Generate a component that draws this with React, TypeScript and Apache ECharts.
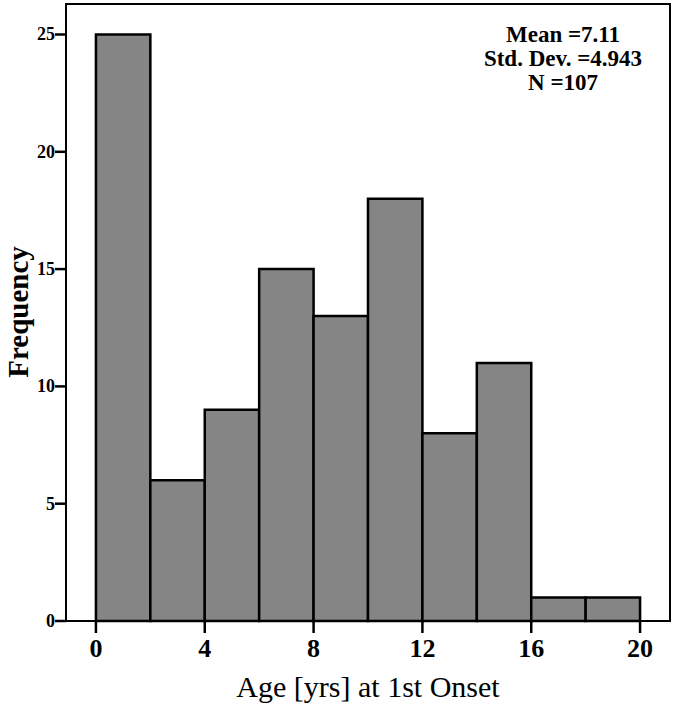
import React, { useEffect, useRef } from "react";
import * as echarts from "echarts";

const binStarts = [0, 2, 4, 6, 8, 10, 12, 14, 16, 18];
const binWidth = 2;
const frequencies = [25, 6, 9, 15, 13, 18, 8, 11, 1, 1];
const xTicks = [0, 4, 8, 12, 16, 20];
const yTicks = [0, 5, 10, 15, 20, 25];
const statsLines = ["Mean =7.11", "Std. Dev. =4.943", "N =107"];

const X_MIN = -1.1;
const X_MAX = 21.1;
const Y_MIN = 0;
const Y_MAX = 26.3;

const FONT = "'Liberation Serif', 'DejaVu Serif', serif";

export default function App() {
  const ref = useRef<HTMLDivElement>(null);
  useEffect(() => {
    if (!ref.current) return;
    const chart = echarts.init(ref.current, null, { renderer: "svg" });
    const data = binStarts.map((s, i) => [s, s + binWidth, frequencies[i]]);
    const tickData = [
      ...xTicks.map((v) => [v, Y_MIN, 0]),
      ...yTicks.map((v) => [X_MIN, v, 1]),
    ];
    chart.setOption({
      animation: false,
      backgroundColor: "#fff",
      grid: {
        left: 66,
        top: 4,
        right: 5,
        bottom: 93,
        show: true,
        borderColor: "#000",
        borderWidth: 2,
        backgroundColor: "transparent",
      },
      xAxis: {
        type: "value",
        min: X_MIN,
        max: X_MAX,
        splitLine: { show: false },
        axisLine: { show: true, onZero: false, lineStyle: { color: "#000", width: 2 } },
        axisTick: { show: false },
        axisLabel: {
          customValues: xTicks,
          color: "#000",
          fontFamily: FONT,
          fontWeight: "bold",
          fontSize: 26,
          margin: 14,
        },
      },
      yAxis: {
        type: "value",
        min: Y_MIN,
        max: Y_MAX,
        splitLine: { show: false },
        axisLine: { show: true, onZero: false, lineStyle: { color: "#000", width: 2 } },
        axisTick: { show: false },
        axisLabel: {
          customValues: yTicks,
          color: "#000",
          fontFamily: FONT,
          fontWeight: "bold",
          fontSize: 18,
          margin: 11,
        },
      },
      graphic: [
        {
          type: "text",
          x: 18,
          y: 312,
          rotation: Math.PI / 2,
          style: {
            text: "Frequency",
            fontFamily: FONT,
            fontWeight: "bold",
            fontSize: 29,
            fill: "#000",
            align: "center",
            verticalAlign: "middle",
          },
        },
        {
          type: "text",
          x: 368,
          y: 686,
          style: {
            text: "Age [yrs] at 1st Onset",
            fontFamily: FONT,
            fontSize: 30,
            fill: "#000",
            align: "center",
            verticalAlign: "middle",
          },
        },
        ...statsLines.map((t, i) => ({
          type: "text",
          x: 563,
          y: 34 + i * 24,
          style: {
            text: t,
            fontFamily: FONT,
            fontWeight: "bold",
            fontSize: 23,
            fill: "#000",
            align: "center",
            verticalAlign: "middle",
          },
        })),
      ],
      series: [
        {
          type: "custom",
          data,
          encode: { x: [0, 1], y: 2 },
          renderItem: (params: any, api: any) => {
            const p0 = api.coord([api.value(0), api.value(2)]);
            const p1 = api.coord([api.value(1), 0]);
            return {
              type: "rect",
              shape: { x: p0[0], y: p0[1], width: p1[0] - p0[0], height: p1[1] - p0[1] },
              style: { fill: "#858585", stroke: "#000", lineWidth: 2.5 },
            };
          },
        },
        {
          type: "custom",
          data: tickData,
          clip: false,
          silent: true,
          encode: { x: 0, y: 1 },
          renderItem: (params: any, api: any) => {
            const p = api.coord([api.value(0), api.value(1)]);
            const isY = api.value(2) === 1;
            return {
              type: "line",
              shape: isY
                ? { x1: p[0] - 11, y1: p[1], x2: p[0], y2: p[1] }
                : { x1: p[0], y1: p[1], x2: p[0], y2: p[1] + 12 },
              style: { stroke: "#000", lineWidth: 2.5 },
            };
          },
        },
      ],
    });
    return () => chart.dispose();
  }, []);
  return <div ref={ref} style={{ width: 675, height: 714, position: "absolute", left: 0, top: 0 }} />;
}
